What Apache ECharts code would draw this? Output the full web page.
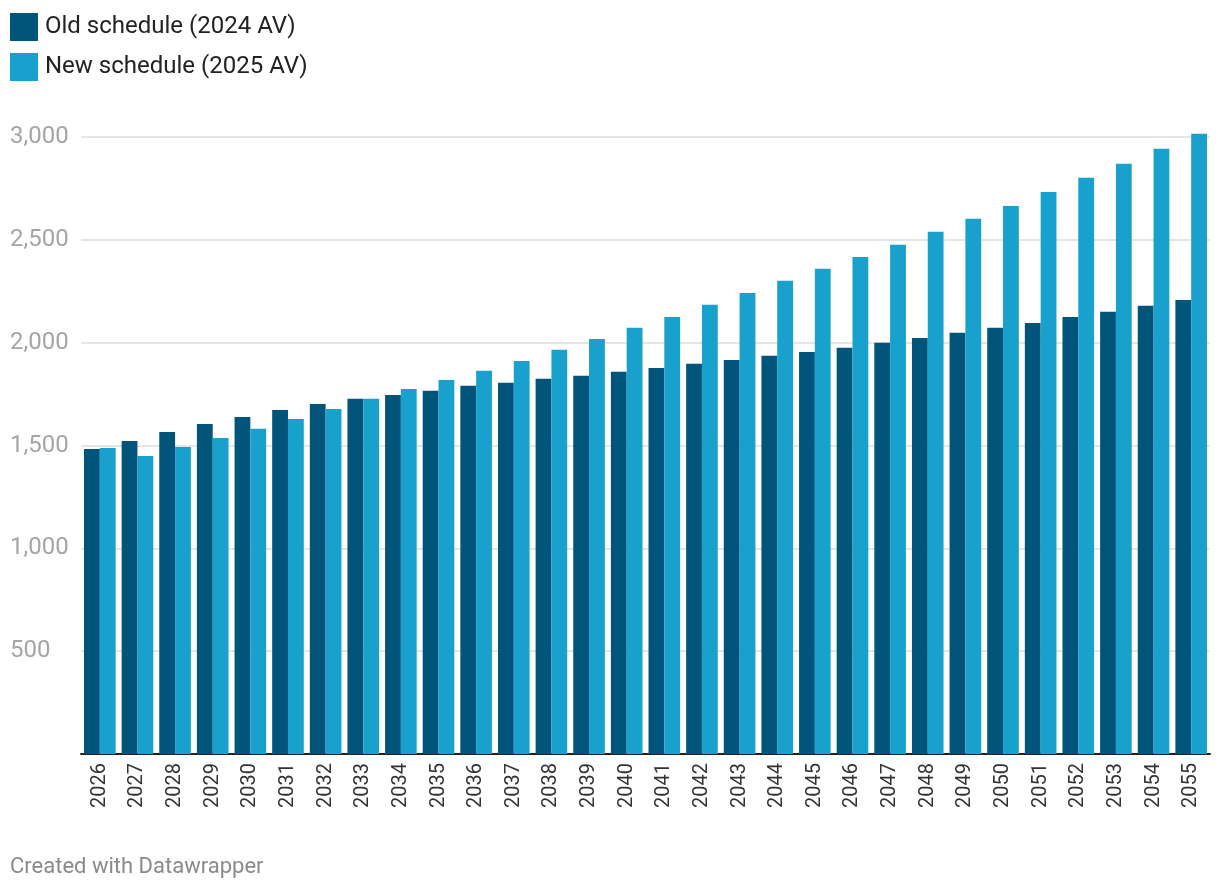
<!DOCTYPE html>
<html>
<head>
<meta charset="utf-8">
<script src="https://cdn.jsdelivr.net/npm/echarts@6/dist/echarts.min.js"></script>
<style>
  html, body { margin: 0; padding: 0; background: #fff; }
  #chart { width: 1220px; height: 890px; }
</style>
</head>
<body>
<div id="chart"></div>
<script>
// data
var years = ["2026", "2027", "2028", "2029", "2030", "2031", "2032", "2033", "2034", "2035",
  "2036", "2037", "2038", "2039", "2040", "2041", "2042", "2043", "2044", "2045",
  "2046", "2047", "2048", "2049", "2050", "2051", "2052", "2053", "2054", "2055"];
var oldSchedule = [1483, 1522, 1566, 1605, 1639, 1673, 1702, 1727, 1746, 1766,
  1790, 1805, 1824, 1839, 1858, 1877, 1897, 1916, 1936, 1955,
  1975, 1999, 2023, 2048, 2072, 2096, 2125, 2150, 2179, 2208];
var newSchedule = [1488, 1449, 1493, 1537, 1581, 1629, 1678, 1727, 1775, 1819,
  1863, 1911, 1965, 2018, 2072, 2125, 2184, 2242, 2301, 2359,
  2417, 2476, 2539, 2602, 2665, 2733, 2802, 2870, 2943, 3016];
var yTicks = [0, 500, 1000, 1500, 2000, 2500, 3000];

var chart = echarts.init(document.getElementById("chart"));

var options = {
  animation: false,
  color: ["#01557b", "#18a1cd"],
  textStyle: { fontFamily: "Roboto" },
  legend: {
    orient: "vertical",
    left: 10,
    top: 13,
    padding: 0,
    itemWidth: 28,
    itemHeight: 28,
    itemGap: 12,
    icon: "rect",
    textStyle: { color: "#222", fontSize: 24, padding: [2, 0, 0, 2] },
    data: ["Old schedule (2024 AV)", "New schedule (2025 AV)"]
  },
  grid: { left: 81, right: 10, top: 137, bottom: 136, containLabel: false },
  xAxis: {
    type: "category",
    data: years,
    axisLine: { lineStyle: { color: "#222", width: 2 } },
    axisTick: { show: false },
    axisLabel: { rotate: 90, color: "#333", fontSize: 20, margin: 9, interval: 0 }
  },
  yAxis: {
    type: "value",
    min: yTicks[0],
    max: yTicks[yTicks.length - 1],
    interval: 500,
    axisLine: { show: false },
    axisTick: { show: false },
    splitLine: { lineStyle: { color: "#e5e5e5", width: 2 } },
    axisLabel: {
      color: "#a5a5a5",
      fontSize: 24,
      align: "left",
      margin: 71,
      formatter: function (v) { return v === 0 ? "" : v.toLocaleString("en-US"); }
    }
  },
  series: [
    {
      name: "Old schedule (2024 AV)",
      type: "bar",
      data: oldSchedule,
      barGap: "0%",
      barCategoryGap: "16%",
      clip: false
    },
    {
      name: "New schedule (2025 AV)",
      type: "bar",
      data: newSchedule,
      barGap: "0%",
      barCategoryGap: "16%",
      clip: false
    }
  ],
  graphic: [
    {
      type: "text",
      left: 10,
      top: 856,
      style: { text: "Created with Datawrapper", fill: "#8a8a8a", font: "22px Roboto" }
    }
  ]
};

chart.setOption(options);
</script>
</body>
</html>
